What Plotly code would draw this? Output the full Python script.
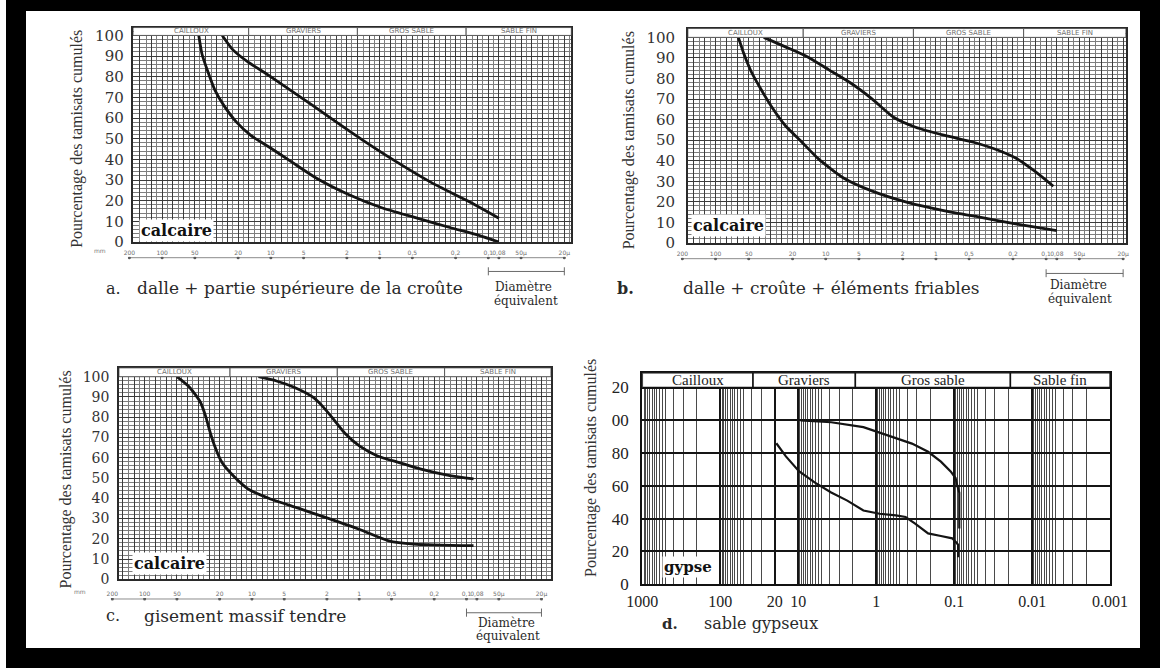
import math
import plotly.graph_objects as go

W, H = 1168, 668

# ---------------------------------------------------------------------------
# Granulometric curves: sieve size (mm) vs cumulative passing (%)
# ---------------------------------------------------------------------------
a_lower_mm = [46, 43, 38, 32.7, 27, 20.7, 15.2, 10.4, 6.55, 3.84, 1.93, 0.97, 0.485, 0.226, 0.122, 0.08]
a_lower_pct = [100, 91, 82.5, 73.5, 66, 58, 51.5, 46, 39, 31, 23, 16.7, 12, 7, 3.2, 0]
a_upper_mm = [28, 22.3, 16.4, 11.2, 7.1, 4.1, 2.24, 1.42, 0.71, 0.33, 0.154, 0.08]
a_upper_pct = [100, 93, 87.3, 81.7, 74.6, 66, 56.3, 49.2, 39, 28.6, 19.8, 11.5]

b_lower_mm = [62, 55.3, 47.5, 39.4, 31.3, 23.2, 17.1, 11.7, 6.9, 3.78, 1.78, 0.83, 0.39, 0.184, 0.08]
b_lower_pct = [100, 92, 83.4, 75.5, 66.6, 57, 50, 41, 31.6, 25.2, 19.6, 15.6, 12.4, 9.2, 6]
b_upper_mm = [36.5, 23.2, 14.7, 9.35, 5.94, 3.78, 2.4, 1.53, 0.83, 0.456, 0.269, 0.184, 0.126, 0.086]
b_upper_pct = [100, 95.4, 90.6, 84.2, 77.8, 70, 61, 56.3, 52.3, 49, 45, 41, 34.8, 27.6]

c_lower_mm = [50, 38, 30.2, 26.9, 24.9, 22.2, 19, 15, 11, 6.9, 3.7, 2.0, 0.99, 0.53, 0.31, 0.086]
c_lower_pct = [100, 94.7, 87.4, 80.2, 73.8, 65.7, 57.6, 51.2, 44.8, 39.9, 35.1, 30.3, 24.6, 19, 17.4, 16.6]
c_upper_mm = [8.7, 5.9, 4.0, 2.7, 2.16, 1.71, 1.36, 0.99, 0.675, 0.423, 0.266, 0.143, 0.086]
c_upper_pct = [100, 97.9, 94.7, 89.9, 85, 78.6, 72.1, 65.7, 60.9, 57.6, 54.4, 51.2, 49.6]

d_upper_mm = [9.36, 3.78, 1.46, 0.82, 0.56, 0.348, 0.216, 0.148, 0.111, 0.096, 0.092, 0.086, 0.086]
d_upper_pct = [100, 98.8, 95.8, 91.8, 88.8, 85.8, 80.8, 74.8, 68.8, 64.8, 60.8, 55.8, 34]
d_lower_mm = [19.1, 14.4, 9.8, 6.1, 3.78, 2.35, 1.46, 0.905, 0.56, 0.42, 0.317, 0.216, 0.148, 0.106, 0.092, 0.089, 0.089]
d_lower_pct = [86, 78, 69, 62, 56, 51, 45, 43, 42, 41, 37, 31, 29.4, 28, 25, 24, 16.5]

# Printed scale of the granulometric paper (panels a-c)
scale_mm = [200, 100, 50, 20, 10, 5, 2, 1, 0.5, 0.2, 0.1, 0.08, 0.05, 0.02]
scale_labels = ["200", "100", "50", "20", "10", "5", "2", "1", "0,5", "0,2", "0,1", "0,08", "50µ", "20µ"]
equiv_mm = [0.1, 0.02]
pct_ticks = list(range(0, 101, 10))
pct_labels = [str(v) for v in pct_ticks]
fraction_names = ["CAILLOUX", "GRAVIERS", "GROS SABLE", "SABLE FIN"]
fraction_bounds = [16, 1.6, 0.16]

# Panel d axis
d_ticks_mm = [1000, 100, 20, 10, 1, 0.1, 0.01, 0.001]
d_tick_labels = ["1000", "100", "20", "10", "1", "0.1", "0.01", "0.001"]
d_pct_ticks = [0, 20, 40, 60, 80, 100, 120]
d_pct_labels = ["0", "20", "40", "60", "80", "00", "20"]
d_fraction_names = ["Cailloux", "Graviers", "Gros sable", "Sable fin"]
d_fraction_bounds = [1000, 38, 1.85, 0.019, 0.001]

# ---------------------------------------------------------------------------
SERIF = "Liberation Serif"
WIDE = "DejaVu Serif"
INK = "#141414"


def fx(p):
    return p / W


def fy(p):
    return 1 - p / H


def ax_name(kind, n):
    return f"{kind}axis" if n == 1 else f"{kind}axis{n}"


def ax_ref(kind, n):
    return kind if n == 1 else f"{kind}{n}"


# sieve-paper grid (R10 / R20 series)
R10 = [1, 1.25, 1.6, 2, 2.5, 3.15, 4, 5, 6.3, 8]
R20 = [1.12, 1.4, 1.8, 2.24, 2.8, 3.55, 4.5, 5.6, 7.1, 9]
grid_major = [m * 10 ** e for e in range(-2, 3) for m in R10]
grid_minor = [m * 10 ** e for e in range(-2, 3) for m in R20]
d_minor = [m * 10 ** e for e in range(-3, 3) for m in (2, 3, 4, 5, 6, 7, 8, 9, 5.5, 6.5, 7.5, 8.5, 9.5)]

panels = [
    dict(curves=[(a_lower_mm, a_lower_pct), (a_upper_mm, a_upper_pct)],
         gx=(121, 572), one=374.5, dec=112.0, y0=245, y100=35, ytop=27,
         sx=(78, 578), ys=261, yb=275, standoff=5, tick_size=15,
         title_xy=(63, 140), calc_xy=(165, 233),
         cap_letter="a.", cap_bold=False, letter_xy=(100, 292), cap_x=123,
         cap="dalle + partie supérieure de la croûte",
         diam_xy=(523, 291), mm_xy=(87, 254)),
    dict(curves=[(b_lower_mm, b_lower_pct), (b_upper_mm, b_upper_pct)],
         gx=(692, 1143), one=947.5, dec=113.5, y0=246, y100=37, ytop=28,
         sx=(660, 1150), ys=262, yb=277, standoff=8, tick_size=15,
         title_xy=(631, 142), calc_xy=(734, 228),
         cap_letter="b.", cap_bold=True, letter_xy=(628, 292), cap_x=685,
         cap="dalle + croûte + éléments friables",
         diam_xy=(1094, 289), mm_xy=None),
    dict(curves=[(c_lower_mm, c_lower_pct), (c_upper_mm, c_upper_pct)],
         gx=(106, 551), one=353.5, dec=110.5, y0=588, y100=382, ytop=373,
         sx=(60, 556), ys=608, yb=622, standoff=5, tick_size=14,
         title_xy=(52, 486), calc_xy=(158, 572),
         cap_letter="c.", cap_bold=False, letter_xy=(100, 625), cap_x=130,
         cap="gisement massif tendre",
         diam_xy=(505, 632), mm_xy=(66, 600)),
]

fig = go.Figure()
layout = dict(width=W, height=H, margin=dict(l=0, r=0, t=0, b=0),
              paper_bgcolor="white", plot_bgcolor="white", showlegend=False)
shapes = []
annotations = []


def note(text, x, y, size, family=SERIF, color="#2a2a2a", **kw):
    d = dict(text=text, x=fx(x), y=fy(y), xref="paper", yref="paper",
             showarrow=False, font=dict(family=family, size=size, color=color),
             xanchor=kw.pop("xanchor", "center"), yanchor=kw.pop("yanchor", "middle"))
    d.update(kw)
    annotations.append(d)


for i, p in enumerate(panels):
    nm, ns = 2 * i + 1, 2 * i + 2
    xr, yr = ax_ref("x", nm), ax_ref("y", nm)
    sxr, syr = ax_ref("x", ns), ax_ref("y", ns)

    gx0, gx1 = p["gx"]
    lo = (p["one"] - gx0) / p["dec"]
    hi = -(gx1 - p["one"]) / p["dec"]
    per = (p["y0"] - p["y100"]) / 100.0
    ymax = (p["y0"] - p["ytop"]) / per

    layout[ax_name("x", nm)] = dict(
        type="log", domain=[fx(gx0), fx(gx1)], range=[lo, hi], anchor=yr,
        tickvals=grid_major, showticklabels=False, ticks="",
        showgrid=True, gridcolor="#3c3c3c", gridwidth=1,
        minor=dict(tickvals=grid_minor, showgrid=True, gridcolor="#7e7e7e", gridwidth=1, ticks=""),
        showline=True, mirror=True, linecolor="#2a2a2a", linewidth=1.5, zeroline=False)
    layout[ax_name("y", nm)] = dict(
        domain=[fy(p["y0"]), fy(p["ytop"])], range=[0, ymax], anchor=xr,
        tickvals=pct_ticks, ticktext=pct_labels, ticks="", ticklabelstandoff=p["standoff"],
        tickfont=dict(family=WIDE, size=p["tick_size"], color="#333333"),
        showgrid=True, gridcolor="#3c3c3c", gridwidth=1,
        minor=dict(tickvals=list(range(0, 104, 2)), showgrid=True, gridcolor="#7e7e7e", gridwidth=1, ticks=""),
        showline=True, mirror=True, linecolor="#2a2a2a", linewidth=1.5, zeroline=False)

    # printed scale strip under the grid
    sx0, sx1 = p["sx"]
    slo = (p["one"] - sx0) / p["dec"]
    shi = -(sx1 - p["one"]) / p["dec"]
    spx = p["yb"] - p["ys"]
    layout[ax_name("x", ns)] = dict(
        type="log", domain=[fx(sx0), fx(sx1)], range=[slo, shi], anchor=syr, side="top",
        tickvals=scale_mm, ticktext=scale_labels, tickangle=0, ticks="",
        tickfont=dict(family="DejaVu Sans", size=6, color="#6f6f6f"),
        showgrid=False, showline=False, zeroline=False)
    layout[ax_name("y", ns)] = dict(
        domain=[fy(p["yb"] + 4), fy(p["ys"] - 1)], range=[-4 / spx, 1 + 1 / spx],
        anchor=sxr, visible=False)

    fig.add_trace(go.Scatter(x=scale_mm, y=[1] * len(scale_mm), xaxis=sxr, yaxis=syr,
                             mode="lines+markers", hoverinfo="skip",
                             line=dict(color="#8c8c8c", width=1),
                             marker=dict(size=3, color="#5a5a5a")))
    fig.add_trace(go.Scatter(x=equiv_mm, y=[0, 0], xaxis=sxr, yaxis=syr,
                             mode="lines+markers", hoverinfo="skip",
                             line=dict(color="#6a6a6a", width=1),
                             marker=dict(symbol="line-ns-open", size=6,
                                         line=dict(width=1, color="#6a6a6a"))))

    for mm, pct in p["curves"]:
        fig.add_trace(go.Scatter(x=mm, y=pct, xaxis=xr, yaxis=yr, mode="lines",
                                 hoverinfo="skip",
                                 line=dict(color=INK, width=2.8, shape="spline", smoothing=0.6)))

    # fraction header row
    bounds = [10 ** lo] + fraction_bounds + [10 ** hi]
    for k, name in enumerate(fraction_names):
        shapes.append(dict(type="rect", xref=xr, yref=yr, x0=bounds[k], x1=bounds[k + 1],
                           y0=100, y1=ymax, fillcolor="white",
                           line=dict(color="#5a5a5a", width=1), layer="above"))
        annotations.append(dict(text=name, xref=xr, yref=yr,
                                x=(math.log10(bounds[k]) + math.log10(bounds[k + 1])) / 2,
                                y=(100 + ymax) / 2, showarrow=False,
                                font=dict(family="DejaVu Sans", size=7, color="#707070")))

    tx, ty = p["title_xy"]
    note("Pourcentage des tamisats cumulés", tx, ty, 16, textangle=-90, color="#333333")
    cx, cy = p["calc_xy"]
    note("<b>calcaire</b>", cx, cy, 16, family=WIDE, color="#111111", bgcolor="white", borderpad=1)
    lx, ly = p["letter_xy"]
    note(f"<b>{p['cap_letter']}</b>" if p["cap_bold"] else p["cap_letter"], lx, ly, 16, family=WIDE)
    note(p["cap"], p["cap_x"], ly, 17, family=WIDE, xanchor="left")
    dx, dy = p["diam_xy"]
    note("Diamètre", dx, dy, 12, family=WIDE)
    note("équivalent", dx + 2, dy + 14, 12, family=WIDE)
    if p["mm_xy"]:
        note("mm", p["mm_xy"][0], p["mm_xy"][1], 6, family="DejaVu Sans", color="#7a7a7a")

# ---------------------------------------------------------------------------
# Panel d: gypsum sand
# ---------------------------------------------------------------------------
dr_x, dr_y = ax_ref("x", 7), ax_ref("y", 7)
d_top = 129
layout["xaxis7"] = dict(
    type="log", domain=[fx(645), fx(1127)], range=[3.001, -3.001], anchor=dr_y,
    tickvals=d_ticks_mm, ticktext=d_tick_labels, tickangle=0, ticks="", ticklabelstandoff=2,
    tickfont=dict(family=SERIF, size=16, color="#222222"),
    showgrid=True, gridcolor="#151515", gridwidth=2,
    minor=dict(tickvals=d_minor, showgrid=True, gridcolor="#4a4a4a", gridwidth=1, ticks=""),
    showline=True, mirror=True, linecolor="#111111", linewidth=2, zeroline=False)
layout["yaxis7"] = dict(
    domain=[fy(593), fy(378)], range=[0, d_top], anchor=dr_x,
    tickvals=d_pct_ticks, ticktext=d_pct_labels, ticks="", ticklabelstandoff=8,
    tickfont=dict(family=SERIF, size=17, color="#222222"),
    showgrid=True, gridcolor="#151515", gridwidth=2,
    showline=True, mirror=True, linecolor="#111111", linewidth=2, zeroline=False)

for mm, pct in [(d_upper_mm, d_upper_pct), (d_lower_mm, d_lower_pct)]:
    fig.add_trace(go.Scatter(x=mm, y=pct, xaxis=dr_x, yaxis=dr_y, mode="lines",
                             hoverinfo="skip", line=dict(color=INK, width=2.2)))

for k, name in enumerate(d_fraction_names):
    b0, b1 = d_fraction_bounds[k], d_fraction_bounds[k + 1]
    shapes.append(dict(type="rect", xref=dr_x, yref=dr_y, x0=b0, x1=b1, y0=120, y1=d_top,
                       fillcolor="white", line=dict(color="#111111", width=1.5), layer="above"))
    annotations.append(dict(text=name, xref=dr_x, yref=dr_y,
                            x=(math.log10(b0) + math.log10(b1)) / 2, y=124.6, showarrow=False,
                            font=dict(family=SERIF, size=15, color="#222222")))

note("Pourcentage des tamisats cumulés", 592, 475, 16, textangle=-90, color="#333333")
note("<b>gypse</b>", 692, 575, 15, family=WIDE, color="#111111", bgcolor="white", borderpad=1)
note("<b>d.</b>", 674, 633, 15, family=WIDE)
note("sable gypseux", 707, 633, 16, family=WIDE, xanchor="left")

# black border of the plate
shapes.append(dict(type="rect", xref="paper", yref="paper", x0=0, x1=1, y0=0, y1=1,
                   line=dict(color="black", width=20), fillcolor="rgba(0,0,0,0)", layer="above"))

layout["shapes"] = shapes
layout["annotations"] = annotations
fig.update_layout(**layout)
fig.write_html("out.html")
